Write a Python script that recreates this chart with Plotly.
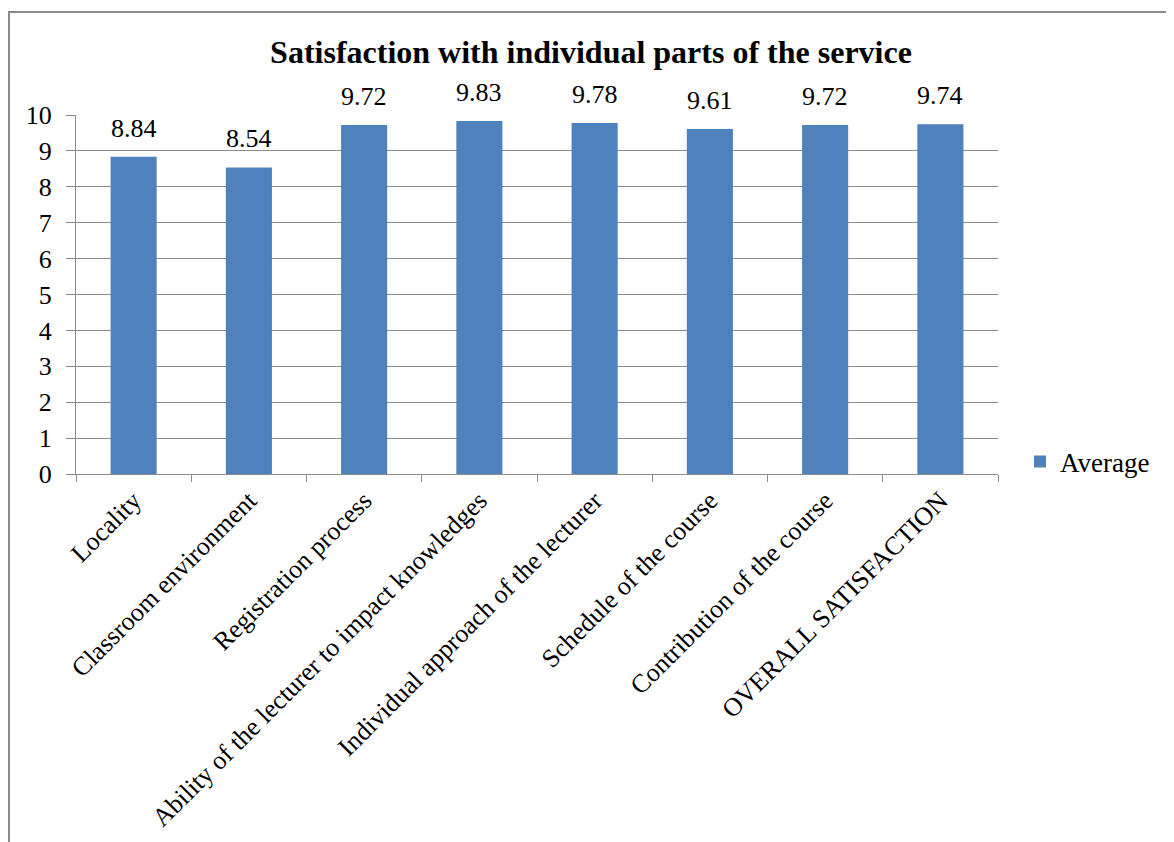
import plotly.graph_objects as go

categories = [
    "Locality",
    "Classroom environment",
    "Registration process",
    "Ability of the lecturer to impact knowledges",
    "Individual approach of the lecturer",
    "Schedule of the course",
    "Contribution of the course",
    "OVERALL SATISFACTION",
]
values = [8.84, 8.54, 9.72, 9.83, 9.78, 9.61, 9.72, 9.74]
value_labels = ["8.84", "8.54", "9.72", "9.83", "9.78", "9.61", "9.72", "9.74"]
y_ticks = [0, 1, 2, 3, 4, 5, 6, 7, 8, 9, 10]

SERIF = "Liberation Serif"
GRID = "#8c8c8c"

# page body has an 8px margin, so figure coords = screen coords - 8
W, H = 1166, 834
L, R, T, B = 68, 176, 107, 368
pw, ph = W - L - R, H - T - B


def px_x(x):
    return (x - L) / pw


def px_y(y):
    return (H - B - y) / ph


fig = go.Figure()
fig.add_trace(go.Bar(
    x=categories,
    y=values,
    name="Average",
    marker=dict(color="#4F81BD", line=dict(width=0)),
    cliponaxis=False,
))

annotations = [
    dict(
        x=c, y=v, xref="x", yref="y",
        text=t, showarrow=False,
        xanchor="center", yanchor="bottom", yshift=12,
        font=dict(family=SERIF, size=26, color="#000000"),
    )
    for c, v, t in zip(categories, values, value_labels)
]

fig.update_layout(
    width=W,
    height=H,
    margin=dict(l=L, r=R, t=T, b=B, autoexpand=False),
    paper_bgcolor="white",
    plot_bgcolor="white",
    font=dict(family=SERIF, color="#000000"),
    bargap=0.6,
    title=dict(
        text="<b>Satisfaction with individual parts of the service</b>",
        font=dict(family=SERIF, size=32, color="#000000"),
        x=583 / W,
        xanchor="center",
        y=1 - 44 / H,
        yanchor="middle",
    ),
    showlegend=True,
    legend=dict(
        x=px_x(1012),
        xanchor="left",
        y=px_y(454),
        yanchor="middle",
        font=dict(family=SERIF, size=27, color="#000000"),
        bgcolor="rgba(0,0,0,0)",
        itemwidth=30,
    ),
    annotations=annotations,
    xaxis=dict(
        type="category",
        tickangle=-45,
        tickfont=dict(family=SERIF, size=26, color="#000000"),
        showgrid=False,
        showline=True,
        linecolor=GRID,
        linewidth=1,
        ticks="outside",
        ticklen=7,
        tickcolor=GRID,
        tickson="boundaries",
    ),
    yaxis=dict(
        range=[0, 10],
        tickvals=y_ticks,
        tickfont=dict(family=SERIF, size=26, color="#000000"),
        ticklabelstandoff=9,
        showgrid=True,
        gridcolor=GRID,
        gridwidth=1,
        showline=True,
        linecolor=GRID,
        linewidth=1,
        ticks="outside",
        ticklen=9,
        tickcolor=GRID,
        zeroline=False,
    ),
    shapes=[dict(
        type="rect",
        xref="paper",
        yref="paper",
        x0=px_x(1),
        x1=px_x(1300),
        y0=px_y(4),
        y1=px_y(1000),
        line=dict(color="#8a8a8a", width=2),
        fillcolor="rgba(0,0,0,0)",
        layer="below",
    )],
)

fig.write_html("out.html")
